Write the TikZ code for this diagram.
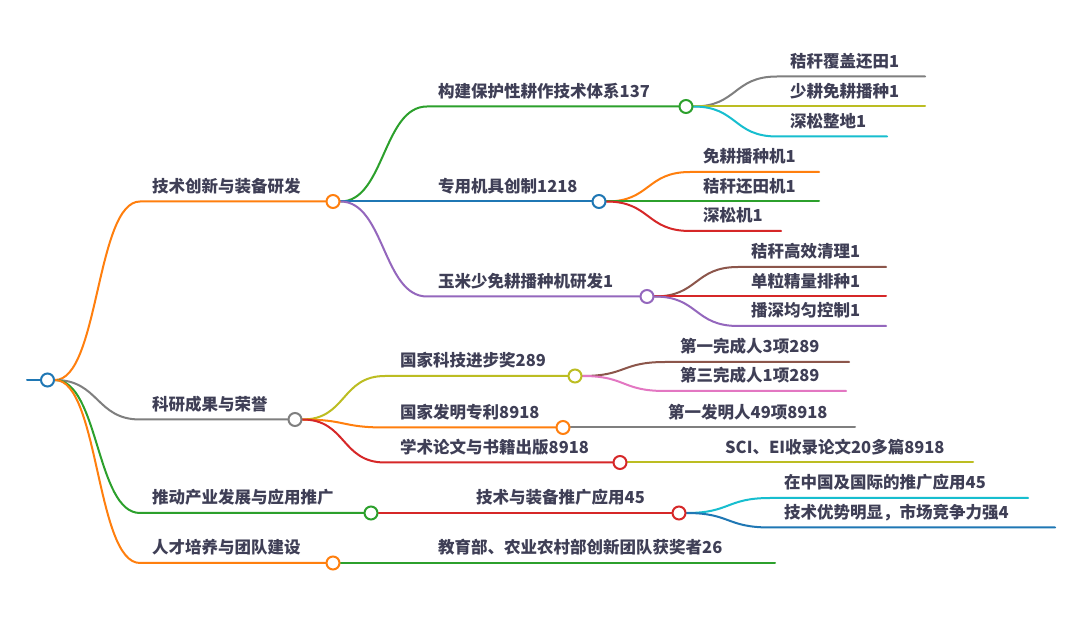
\documentclass[tikz,border=0pt]{standalone}
\usepackage{fontspec}
\newfontfamily\cjk{Noto Sans CJK SC}
\definecolor{txt}{HTML}{3F3F56}
\definecolor{cBlue}{HTML}{1F77B4}
\definecolor{cOrange}{HTML}{FF7F0E}
\definecolor{cGreen}{HTML}{2CA02C}
\definecolor{cRed}{HTML}{D62728}
\definecolor{cPurple}{HTML}{9467BD}
\definecolor{cBrown}{HTML}{8C564B}
\definecolor{cPink}{HTML}{E377C2}
\definecolor{cGray}{HTML}{7F7F7F}
\definecolor{cOlive}{HTML}{BCBD22}
\definecolor{cCyan}{HTML}{17BECF}
\pgfdeclarelayer{bg}
\pgfsetlayers{bg,main}
\tikzset{
  br/.style={line width=2pt, line cap=round},
  dot/.style={circle, draw=#1, fill=white, line width=2pt, minimum size=13pt, inner sep=0pt},
  lbl/.style={anchor=base west, inner sep=0pt, text=txt, font=\cjk\bfseries\fontsize{16.5}{18}\selectfont},
}
\begin{document}
\begin{tikzpicture}[x=1pt,y=-1pt]
\useasboundingbox (0,0) rectangle (1080,617);
% circles
\node[dot=cBlue] (root) at (47.5,380) {};
\node[dot=cOrange] (t1) at (333,201.5) {};
\node[dot=cGray] (t2) at (295,419.5) {};
\node[dot=cGreen] (t3) at (371,513) {};
\node[dot=cOrange] (t4) at (333,563) {};
\node[dot=cGreen] (a1) at (686,106.5) {};
\node[dot=cBlue] (a2) at (599,201.5) {};
\node[dot=cPurple] (a3) at (647,296.5) {};
\node[dot=cOlive] (b1) at (575,376) {};
\node[dot=cOrange] (b2) at (563,427.5) {};
\node[dot=cRed] (b3) at (620,462.5) {};
\node[dot=cRed] (c1) at (679,513) {};
% coordinates
\coordinate (stub) at (27,380);
\coordinate (t1s) at (140,201.5);
\coordinate (t2s) at (140,419.5);
\coordinate (t3s) at (140,513);
\coordinate (t4s) at (140,563);
\coordinate (a1s) at (427,106.5);
\coordinate (a3s) at (427,296.5);
\coordinate (b1s) at (385,376);
\coordinate (b2s) at (385,427.5);
\coordinate (b3s) at (385,462.5);
% leaves
\coordinate (l11s) at (777,76.5);   \coordinate (l11e) at (925,76.5);
\coordinate (l12e) at (925,106.5);
\coordinate (l13s) at (777,136.5);  \coordinate (l13e) at (887,136.5);
\coordinate (l21s) at (690,172);    \coordinate (l21e) at (819,172);
\coordinate (l22e) at (819,201.5);
\coordinate (l23s) at (690,231);    \coordinate (l23e) at (781,231);
\coordinate (l31s) at (738,267);    \coordinate (l31e) at (886,267);
\coordinate (l32e) at (886,296.5);
\coordinate (l33s) at (738,326);    \coordinate (l33e) at (886,326);
\coordinate (m11s) at (665,362);    \coordinate (m11e) at (849,362);
\coordinate (m12s) at (665,391);    \coordinate (m12e) at (846,391);
\coordinate (m2e) at (855,427.5);
\coordinate (m3e) at (973,462.5);
\coordinate (n1s) at (770,498);     \coordinate (n1e) at (1028,498);
\coordinate (n2s) at (770,527.5);   \coordinate (n2e) at (1055,527.5);
\coordinate (p1e) at (775,563);
\begin{pgfonlayer}{bg}
\fill[white] (0,0) rectangle (1080,617);
\draw[br,cBlue] (stub) -- (root.west);
\draw[br,cOrange] (root.east) .. controls +(44,0) and +(-44,0) .. (t1s) -- (t1.west);
\draw[br,cGray] (root.east) .. controls +(44,0) and +(-44,0) .. (t2s) -- (t2.west);
\draw[br,cGreen] (root.east) .. controls +(44,0) and +(-44,0) .. (t3s) -- (t3.west);
\draw[br,cOrange] (root.east) .. controls +(44,0) and +(-44,0) .. (t4s) -- (t4.west);
\draw[br,cGreen] (t1.east) .. controls +(44,0) and +(-44,0) .. (a1s) -- (a1.west);
\draw[br,cBlue] (t1.east) -- (a2.west);
\draw[br,cPurple] (t1.east) .. controls +(44,0) and +(-44,0) .. (a3s) -- (a3.west);
\draw[br,cGray] (a1.east) .. controls +(44,0) and +(-44,0) .. (l11s) -- (l11e);
\draw[br,cOlive] (a1.east) -- (l12e);
\draw[br,cCyan] (a1.east) .. controls +(44,0) and +(-44,0) .. (l13s) -- (l13e);
\draw[br,cOrange] (a2.east) .. controls +(44,0) and +(-44,0) .. (l21s) -- (l21e);
\draw[br,cGreen] (a2.east) -- (l22e);
\draw[br,cRed] (a2.east) .. controls +(44,0) and +(-44,0) .. (l23s) -- (l23e);
\draw[br,cBrown] (a3.east) .. controls +(44,0) and +(-44,0) .. (l31s) -- (l31e);
\draw[br,cRed] (a3.east) -- (l32e);
\draw[br,cPurple] (a3.east) .. controls +(44,0) and +(-44,0) .. (l33s) -- (l33e);
\draw[br,cOlive] (t2.east) .. controls +(44,0) and +(-44,0) .. (b1s) -- (b1.west);
\draw[br,cOrange] (t2.east) .. controls +(44,0) and +(-44,0) .. (b2s) -- (b2.west);
\draw[br,cRed] (t2.east) .. controls +(44,0) and +(-44,0) .. (b3s) -- (b3.west);
\draw[br,cBrown] (b1.east) .. controls +(44,0) and +(-44,0) .. (m11s) -- (m11e);
\draw[br,cPink] (b1.east) .. controls +(44,0) and +(-44,0) .. (m12s) -- (m12e);
\draw[br,cGray] (b2.east) -- (m2e);
\draw[br,cOlive] (b3.east) -- (m3e);
\draw[br,cRed] (t3.east) -- (c1.west);
\draw[br,cCyan] (c1.east) .. controls +(44,0) and +(-44,0) .. (n1s) -- (n1e);
\draw[br,cBlue] (c1.east) .. controls +(44,0) and +(-44,0) .. (n2s) -- (n2e);
\draw[br,cGreen] (t4.east) -- (p1e);
\end{pgfonlayer}
% labels
\node[lbl] (xt1) at (152,192.5) {技术创新与装备研发};
\node[lbl] (xt2) at (152,410.5) {科研成果与荣誉};
\node[lbl] (xt3) at (152,504) {推动产业发展与应用推广};
\node[lbl] (xt4) at (152,554) {人才培养与团队建设};
\node[lbl] (xa1) at (438,97.5) {构建保护性耕作技术体系137};
\node[lbl] (xa2) at (438,192.5) {专用机具创制1218};
\node[lbl] (xa3) at (438,287.5) {玉米少免耕播种机研发1};
\node[lbl] (xl11) at (790,67.5) {秸秆覆盖还田1};
\node[lbl] (xl12) at (790,97.5) {少耕免耕播种1};
\node[lbl] (xl13) at (790,127.5) {深松整地1};
\node[lbl] (xl21) at (703,163) {免耕播种机1};
\node[lbl] (xl22) at (703,192.5) {秸秆还田机1};
\node[lbl] (xl23) at (703,222) {深松机1};
\node[lbl] (xl31) at (751,258) {秸秆高效清理1};
\node[lbl] (xl32) at (751,287.5) {单粒精量排种1};
\node[lbl] (xl33) at (751,317) {播深均匀控制1};
\node[lbl] (xb1) at (400,367) {国家科技进步奖289};
\node[lbl] (xb2) at (400,418.5) {国家发明专利8918};
\node[lbl] (xb3) at (400,453.5) {学术论文与书籍出版8918};
\node[lbl] (xm11) at (680,353) {第一完成人3项289};
\node[lbl] (xm12) at (680,382) {第三完成人1项289};
\node[lbl] (xm2) at (668,418.5) {第一发明人49项8918};
\node[lbl] (xm3) at (725,453.5) {SCI、EI收录论文20多篇8918};
\node[lbl] (xc1) at (476,504) {技术与装备推广应用45};
\node[lbl] (xn1) at (784,489) {在中国及国际的推广应用45};
\node[lbl] (xn2) at (784,518.5) {技术优势明显，市场竞争力强4};
\node[lbl] (xp1) at (438,554) {教育部、农业农村部创新团队获奖者26};
\end{tikzpicture}
\end{document}
